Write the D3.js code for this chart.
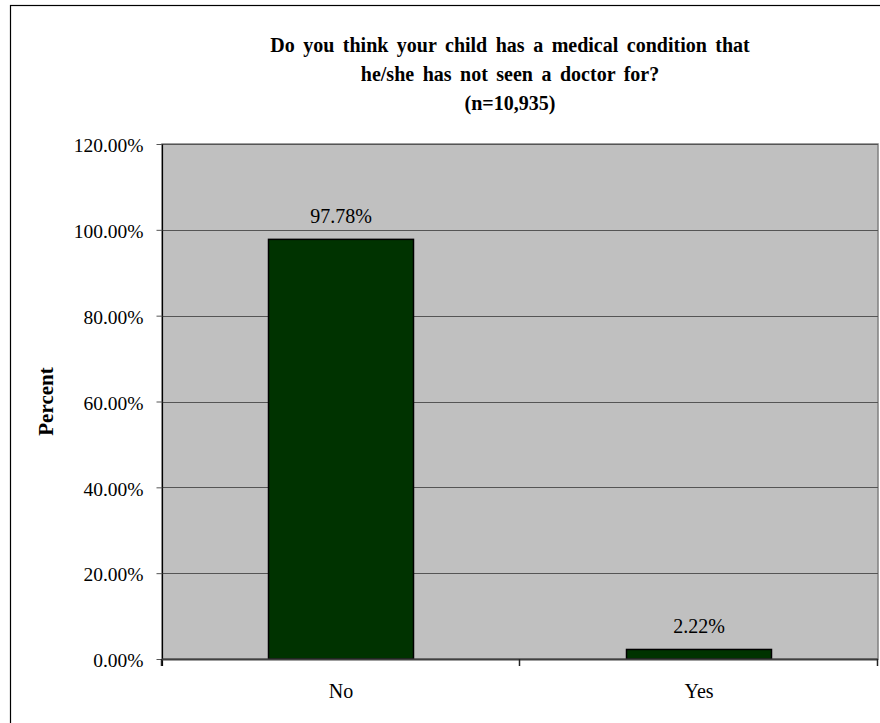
<!DOCTYPE html>
<html>
<head>
<meta charset="utf-8">
<script src="https://cdn.jsdelivr.net/npm/d3@7"></script>
<style>
  html, body { margin: 0; padding: 0; background: #fff; }
  svg { display: block; }
  text { font-family: "Liberation Serif", "Times New Roman", serif; fill: #000; }
</style>
</head>
<body>
<svg id="chart" width="880" height="723"></svg>
<script>
const categories = ["No", "Yes"];
const values = [97.78, 2.22];
const valueLabels = ["97.78%", "2.22%"];
const yTicks = [0, 20, 40, 60, 80, 100, 120];
const titleLines = ["Do you think your child has a medical condition that", "he/she has not seen a doctor for?", "(n=10,935)"];
const yAxisTitle = "Percent";

const svg = d3.select("#chart");
const margin = { left: 162, right: 2, top: 144, bottom: 64 };
const W = 880, H = 723;
const x0 = margin.left, x1 = W - margin.right;
const y0 = H - margin.bottom, y1 = margin.top;

// outer frame
svg.append("rect").attr("x", 10.5).attr("y", 5.5).attr("width", 900).attr("height", 800)
  .attr("fill", "#fff").attr("stroke", "#000").attr("stroke-width", 1.2);

const x = d3.scaleBand().domain(categories).range([x0, x1]).paddingInner(0.595).paddingOuter(0.2975);
const xOuter = d3.scaleBand().domain(categories).range([x0, x1]);
const y = d3.scaleLinear().domain([0, 120]).range([y0, y1]);

// plot background
svg.append("rect").attr("x", x0).attr("y", y1).attr("width", x1 - x0).attr("height", y0 - y1)
  .attr("fill", "#c0c0c0").attr("stroke", "#808080").attr("stroke-width", 1.5);

// gridlines
svg.append("g").selectAll("line").data(yTicks.filter(d => d > 0)).join("line")
  .attr("x1", x0).attr("x2", x1)
  .attr("y1", d => Math.round(y(d)) + 0.5).attr("y2", d => Math.round(y(d)) + 0.5)
  .attr("stroke", "#555").attr("stroke-width", 1);

// bars
svg.append("g").selectAll("rect").data(values).join("rect")
  .attr("x", (d, i) => x(categories[i]))
  .attr("y", d => y(d))
  .attr("width", x.bandwidth())
  .attr("height", d => y0 - y(d))
  .attr("fill", "#003300").attr("stroke", "#000").attr("stroke-width", 1.5);

// value labels
svg.append("g").selectAll("text").data(values).join("text")
  .attr("x", (d, i) => x(categories[i]) + x.bandwidth() / 2)
  .attr("y", d => y(d) - 16.5)
  .attr("text-anchor", "middle").attr("font-size", 20)
  .text((d, i) => valueLabels[i]);

// y axis
const yAxis = d3.axisLeft(y).tickValues(yTicks).tickSize(6).tickPadding(13)
  .tickFormat(d => d.toFixed(2) + "%");
const gy = svg.append("g").attr("transform", `translate(${x0 + 0.5},0)`).call(yAxis);
gy.select(".domain").attr("stroke", "#000").attr("stroke-width", 1.2).attr("d", `M0,${y1}V${y0 + 7}`);
gy.selectAll(".tick line").attr("stroke", "#555");
gy.selectAll(".tick text").attr("font-size", 19.5).attr("font-family", "Liberation Serif, serif").attr("fill", "#000").attr("dy", "0.4em");

// x axis line
svg.append("line").attr("x1", x0).attr("x2", x1).attr("y1", y0 + 0.5).attr("y2", y0 + 0.5)
  .attr("stroke", "#404040").attr("stroke-width", 2);
// x ticks at category boundaries
const bounds = categories.map(c => xOuter(c)).concat([x1]);
svg.append("g").selectAll("line").data(bounds).join("line")
  .attr("x1", d => d - 0.5).attr("x2", d => d - 0.5)
  .attr("y1", y0).attr("y2", y0 + 7)
  .attr("stroke", "#222").attr("stroke-width", 1.5);

// x labels
svg.append("g").selectAll("text").data(categories).join("text")
  .attr("x", d => xOuter(d) + xOuter.bandwidth() / 2)
  .attr("y", y0 + 39)
  .attr("text-anchor", "middle").attr("font-size", 20)
  .text(d => d);

// title
svg.append("g").selectAll("text").data(titleLines).join("text")
  .attr("x", 510).attr("y", (d, i) => 52 + i * 29)
  .attr("text-anchor", "middle").attr("font-size", 20).attr("font-weight", "bold")
  .attr("word-spacing", "3.5px")
  .text(d => d);

// y axis title
svg.append("text")
  .attr("transform", `translate(53,${(y0 + y1) / 2}) rotate(-90)`)
  .attr("text-anchor", "middle").attr("font-size", 21).attr("font-weight", "bold")
  .text(yAxisTitle);
</script>
</body>
</html>
